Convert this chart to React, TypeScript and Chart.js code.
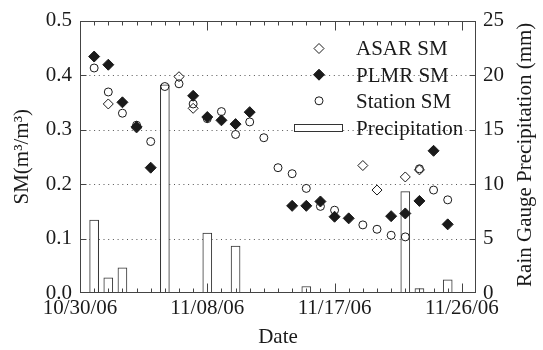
import React, { useEffect, useRef } from "react";
import { Chart, registerables } from "chart.js";

Chart.register(...registerables);

// ---- data ----
const tickDates = ["10/30/06", "11/08/06", "11/17/06", "11/26/06"];

const asarDates = ["11/01/06", "11/03/06", "11/06/06", "11/07/06", "11/19/06", "11/20/06", "11/22/06", "11/23/06"];
const asarSM = [0.347, 0.303, 0.397, 0.339, 0.234, 0.189, 0.213, 0.226];

const plmrDates = ["10/31/06", "11/01/06", "11/02/06", "11/03/06", "11/04/06", "11/07/06", "11/08/06", "11/09/06", "11/10/06", "11/11/06",
  "11/14/06", "11/15/06", "11/16/06", "11/17/06", "11/18/06", "11/21/06", "11/22/06", "11/23/06", "11/24/06", "11/25/06"];
const plmrSM = [0.434, 0.419, 0.35, 0.305, 0.23, 0.362, 0.323, 0.317, 0.31, 0.332,
  0.16, 0.16, 0.168, 0.14, 0.137, 0.141, 0.146, 0.169, 0.261, 0.126];

const stationDates = ["10/31/06", "11/01/06", "11/02/06", "11/03/06", "11/04/06", "11/05/06", "11/06/06", "11/07/06", "11/08/06", "11/09/06",
  "11/10/06", "11/11/06", "11/12/06", "11/13/06", "11/14/06", "11/15/06", "11/16/06", "11/17/06", "11/19/06", "11/20/06",
  "11/21/06", "11/22/06", "11/23/06", "11/24/06", "11/25/06"];
const stationSM = [0.413, 0.369, 0.33, 0.308, 0.278, 0.379, 0.384, 0.347, 0.32, 0.333,
  0.291, 0.314, 0.285, 0.23, 0.219, 0.192, 0.159, 0.152, 0.125, 0.117,
  0.106, 0.103, 0.228, 0.189, 0.171];

const precipDates = ["10/31/06", "11/01/06", "11/02/06", "11/05/06", "11/08/06", "11/10/06", "11/15/06", "11/22/06", "11/23/06", "11/25/06"];
const precipMM = [6.7, 1.4, 2.3, 19.1, 5.5, 4.3, 0.6, 9.3, 0.4, 1.2];

const seriesLabels = ["ASAR SM", "PLMR SM", "Station SM", "Precipitation"];
const rightTitle = "Rain Gauge Precipitation (mm)";

// ---- helpers ----
const START = Date.UTC(2006, 9, 30);
function dayOf(s: string): number {
  const [m, d, y] = s.split("/").map(Number);
  return Math.round((Date.UTC(2000 + y, m - 1, d) - START) / 86400000);
}
const pts = (dates: string[], vals: number[]) => dates.map((d, i) => ({ x: dayOf(d), y: vals[i] }));
const tickDays = tickDates.map(dayOf);

const FONT = "'Liberation Serif', 'Times New Roman', serif";
const INK = "#1a1a1a";
const FRAME = "#444";

const decorPlugin = {
  id: "decor",
  beforeDatasetsDraw(chart: any) {
    const { ctx, chartArea: a, scales } = chart;
    const y = scales.y;
    ctx.save();
    ctx.strokeStyle = "#555";
    ctx.lineWidth = 1;
    ctx.setLineDash([1, 3.7]);
    for (const v of [0.1, 0.2, 0.3, 0.4]) {
      const py = Math.round(y.getPixelForValue(v)) + 0.5;
      ctx.beginPath();
      ctx.moveTo(a.left, py);
      ctx.lineTo(a.right, py);
      ctx.stroke();
    }
    ctx.restore();
  },
  afterDatasetsDraw(chart: any) {
    const { ctx, chartArea: a, scales } = chart;
    const x = scales.x, y = scales.y, y1 = scales.y1;
    const L = Math.round(a.left) + 0.5, R = Math.round(a.right) - 0.5;
    const T = Math.round(a.top) + 0.5, B = Math.round(a.bottom) - 0.5;
    ctx.save();
    ctx.strokeStyle = FRAME;
    ctx.lineWidth = 1;
    ctx.beginPath();
    for (let d = 1; d < 28; d++) {
      const px = Math.round(x.getPixelForValue(d)) + 0.5;
      const len = tickDays.includes(d) ? 9 : 4;
      ctx.moveTo(px, B); ctx.lineTo(px, B - len);
      ctx.moveTo(px, T); ctx.lineTo(px, T + len);
    }
    for (const v of [0.1, 0.2, 0.3, 0.4]) {
      const py = Math.round(y.getPixelForValue(v)) + 0.5;
      ctx.moveTo(L, py); ctx.lineTo(L + 6, py);
    }
    for (const v of [5, 10, 15, 20]) {
      const py = Math.round(y1.getPixelForValue(v)) + 0.5;
      ctx.moveTo(R, py); ctx.lineTo(R - 6, py);
    }
    ctx.stroke();
    ctx.strokeRect(L, T, R - L, B - T);
    ctx.restore();
  },
  afterDraw(chart: any) {
    const { ctx, chartArea: a } = chart;
    const mx = 319, tx = 356;
    const base = [55, 81.7, 108.3, 135];
    ctx.save();
    ctx.font = `21px ${FONT}`;
    ctx.fillStyle = INK;
    ctx.textBaseline = "alphabetic";
    ctx.textAlign = "left";
    seriesLabels.forEach((lab, i) => ctx.fillText(lab, tx, base[i]));
    ctx.lineWidth = 1;
    ctx.strokeStyle = INK;
    let cy = base[0] - 6.5, r = 5;
    ctx.beginPath();
    ctx.moveTo(mx - r, cy); ctx.lineTo(mx, cy - r); ctx.lineTo(mx + r, cy); ctx.lineTo(mx, cy + r); ctx.closePath();
    ctx.stroke();
    cy = base[1] - 7; r = 5.5;
    ctx.beginPath();
    ctx.moveTo(mx - r, cy); ctx.lineTo(mx, cy - r); ctx.lineTo(mx + r, cy); ctx.lineTo(mx, cy + r); ctx.closePath();
    ctx.fillStyle = INK; ctx.fill(); ctx.stroke();
    cy = base[2] - 7.5;
    ctx.beginPath(); ctx.arc(mx, cy, 4, 0, Math.PI * 2); ctx.stroke();
    ctx.strokeStyle = "#333";
    ctx.fillStyle = "#fff";
    ctx.fillRect(294.5, 124.5, 48, 7);
    ctx.strokeRect(294.5, 124.5, 48, 7);
    // right axis title, reading bottom to top
    ctx.translate(525, (a.top + a.bottom) / 2 - 2);
    ctx.rotate(-Math.PI / 2);
    ctx.fillStyle = INK;
    ctx.textAlign = "center";
    ctx.textBaseline = "middle";
    ctx.fillText(rightTitle, 0, 0);
    ctx.restore();
  },
};

export default function App() {
  const ref = useRef<HTMLCanvasElement | null>(null);
  useEffect(() => {
    if (!ref.current) return;
    Chart.defaults.font.family = FONT;
    const chart = new Chart(ref.current, {
      type: "bar",
      data: {
        datasets: [
          {
            type: "scatter",
            label: seriesLabels[0],
            data: pts(asarDates, asarSM),
            yAxisID: "y",
            pointStyle: "rectRot",
            pointRadius: 5,
            pointBorderWidth: 1,
            borderColor: INK,
            backgroundColor: "rgba(0,0,0,0)",
            order: 4,
          } as any,
          {
            type: "scatter",
            label: seriesLabels[1],
            data: pts(plmrDates, plmrSM),
            yAxisID: "y",
            pointStyle: "rectRot",
            pointRadius: 5.5,
            pointBorderWidth: 1,
            borderColor: INK,
            backgroundColor: INK,
            order: 3,
          } as any,
          {
            type: "scatter",
            label: seriesLabels[2],
            data: pts(stationDates, stationSM),
            yAxisID: "y",
            pointStyle: "circle",
            pointRadius: 4,
            pointBorderWidth: 1,
            borderColor: INK,
            backgroundColor: "rgba(0,0,0,0)",
            order: 2,
          } as any,
          {
            type: "bar",
            label: seriesLabels[3],
            data: pts(precipDates, precipMM),
            yAxisID: "y1",
            backgroundColor: "#fff",
            borderColor: "#333",
            borderWidth: 1,
            barThickness: 9,
            order: 10,
          } as any,
        ],
      },
      options: {
        animation: false,
        responsive: true,
        maintainAspectRatio: false,
        layout: { padding: { top: 16, left: 0, right: 0, bottom: 0 } },
        plugins: { legend: { display: false }, tooltip: { enabled: false } },
        scales: {
          x: {
            type: "linear",
            min: 0,
            max: 28,
            offset: false,
            grid: { display: false, drawTicks: false },
            border: { display: false },
            afterBuildTicks: (s: any) => { s.ticks = tickDays.map((v) => ({ value: v })); },
            afterFit: (s: any) => { s.height = 57; },
            ticks: {
              autoSkip: false,
              maxRotation: 0,
              padding: 3,
              color: INK,
              font: { size: 21, family: FONT },
              callback: (v: any) => { const i = tickDays.indexOf(Number(v)); return i >= 0 ? tickDates[i] : ""; },
            },
            title: { display: true, text: "Date", color: INK, font: { size: 21, family: FONT }, padding: { top: 0, bottom: 0 } },
          },
          y: {
            type: "linear",
            position: "left",
            min: 0,
            max: 0.5,
            grid: { display: false, drawTicks: false },
            border: { display: false },
            afterFit: (s: any) => { s.width = 80; },
            ticks: { stepSize: 0.1, padding: 8, color: INK, font: { size: 21, family: FONT }, callback: (v: any) => Number(v).toFixed(1) },
            title: { display: true, text: "SM(m³/m³)", color: INK, font: { size: 21, family: FONT }, padding: { top: 10, bottom: 0 } },
          },
          y1: {
            type: "linear",
            position: "right",
            min: 0,
            max: 25,
            grid: { display: false, drawTicks: false },
            border: { display: false },
            afterFit: (s: any) => { s.width = 67; },
            ticks: { stepSize: 5, padding: 7, color: INK, font: { size: 21, family: FONT } },
            title: { display: false },
          },
        },
      },
      plugins: [decorPlugin],
    } as any);
    return () => chart.destroy();
  }, []);
  return (
    <div style={{ position: "absolute", left: 0, top: 0, width: 543, height: 350, background: "#fff" }}>
      <canvas ref={ref} />
    </div>
  );
}
